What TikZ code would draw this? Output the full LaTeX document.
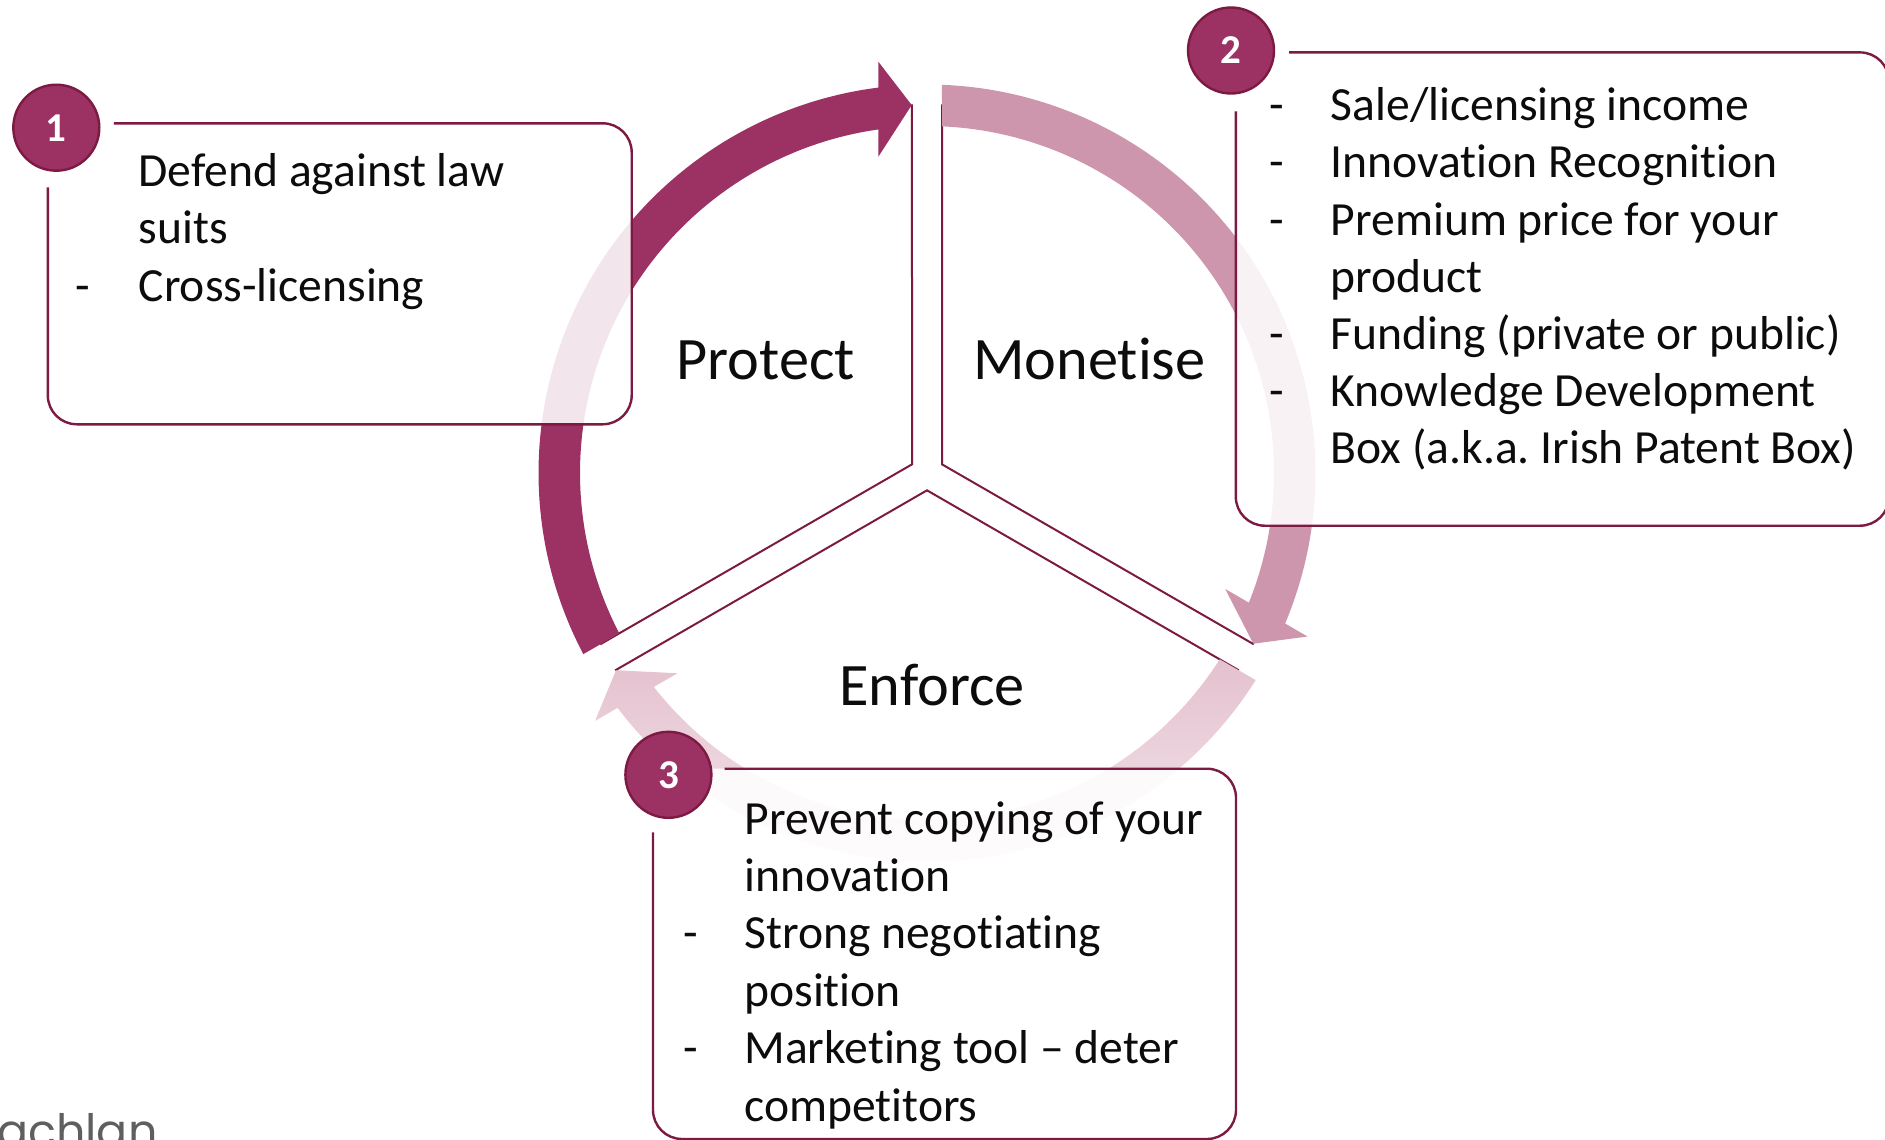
\documentclass[tikz,border=0pt]{standalone}
\usepackage{fontspec}
\setmainfont{Carlito}[Ligatures=NoCommon]
\newfontfamily\logofont{Poppins}
\definecolor{darkplum}{RGB}{155,50,99}
\definecolor{midplum}{RGB}{205,150,172}
\definecolor{enftop}{RGB}{228,193,206}
\definecolor{enfbot}{RGB}{244,230,236}
\definecolor{edgeplum}{RGB}{125,26,66}
\definecolor{ink}{RGB}{12,12,12}
\definecolor{logogray}{RGB}{95,95,95}
\newcommand\ringarrow[2]{%
  \path[#1] ({207.79+#2}:388.5) arc[start angle={207.79+#2}, end angle={97.2+#2}, radius=388.5]
    -- ({96.75+#2}:414.2) -- ({92.38+#2}:368.3) -- ({98.75+#2}:320) -- ({98.06+#2}:347)
    arc[start angle={98.06+#2}, end angle={207.52+#2}, radius=347] -- cycle;}
\newcommand\pieseg[1]{%
  \path[wedge] ({150+#1}:17.32) -- ({92.34+#1}:368)
    arc[start angle={92.34+#1}, end angle={207.66+#1}, radius=368] -- cycle;}
\newcommand\tline[4]{\node[bodytext] (#1) at (#2,#3) {#4};}
\begin{document}
\frenchspacing
\begin{tikzpicture}[x=1pt,y=1pt,
  wedge/.style={fill=white, draw=edgeplum, line width=2pt, line join=miter},
  infobox/.style={fill=white, fill opacity=0.88, rounded corners=29pt},
  boxedge/.style={draw=edgeplum, line width=2.4pt, rounded corners=29pt},
  numdisc/.style={circle, fill=darkplum, draw=edgeplum, line width=2.4pt, minimum size=86pt,
    inner sep=0pt, text=white, font=\fontsize{41}{41}\selectfont\bfseries},
  bodytext/.style={anchor=base west, inner sep=0pt, text=ink, font=\fontsize{47.6}{57.5}\selectfont},
  seglabel/.style={anchor=base, inner sep=0pt, text=ink, font=\fontsize{60.3}{70}\selectfont},
]
\useasboundingbox (0,0) rectangle (1885,-1140);

% pie segments and ring arrows
\begin{scope}[shift={(927,-473)}]
  \pieseg{0}
  \pieseg{-120}
  \pieseg{-240}
  \ringarrow{fill=darkplum}{0}
  \ringarrow{fill=midplum}{-120}
  \ringarrow{top color=enftop, bottom color=enfbot}{120}
\end{scope}

% segment labels
\node[seglabel] (protect) at (765.5,-379.5) {Protect};
\node[seglabel] (monetise) at (1089.3,-379.5) {Monetise};
\node[seglabel] (enforce) at (932,-705) {Enforce};

% boxes
\path[infobox] (47.8,-123.3) rectangle (631.7,-424.3);
\draw[boxedge] (113.8,-123.3) -- (631.7,-123.3) -- (631.7,-424.3) -- (47.8,-424.3) -- (47.8,-187.3);
\path[infobox] (1235.8,-52.4) rectangle (1889,-525.7);
\draw[boxedge] (1289,-52.4) -- (1889,-52.4) -- (1889,-525.7) -- (1235.8,-525.7) -- (1235.8,-111.4);
\path[infobox] (653,-768.7) rectangle (1236,-1139);
\draw[boxedge] (724.5,-768.7) -- (1236,-768.7) -- (1236,-1139) -- (653,-1139) -- (653,-832.4);

% box 1 text
\tline{a1}{138.5}{-186}{Defend against law}
\tline{a2}{138.5}{-243.5}{suits}
\tline{a3d}{75.5}{-301}{-}
\tline{a3}{138.5}{-301}{Cross-licensing}

% box 2 text
\tline{b1d}{1269.5}{-120.7}{-}
\tline{b1}{1330.6}{-120.7}{Sale/licensing income}
\tline{b2d}{1269.5}{-177.9}{-}
\tline{b2}{1330.6}{-177.9}{Innovation Recognition}
\tline{b3d}{1269.5}{-235.1}{-}
\tline{b3}{1330.6}{-235.1}{Premium price for your}
\tline{b4}{1330.6}{-292.3}{product}
\tline{b5d}{1269.5}{-349.5}{-}
\tline{b5}{1330.6}{-349.5}{Funding (private or public)}
\tline{b6d}{1269.5}{-406.7}{-}
\tline{b6}{1330.6}{-406.7}{Knowledge Development}
\tline{b7}{1330.6}{-463.9}{Box (a.k.a. Irish Patent Box)}

% box 3 text
\tline{c1}{744.2}{-834}{Prevent copying of your}
\tline{c2}{744.2}{-891.4}{innovation}
\tline{c3d}{683.2}{-948.8}{-}
\tline{c3}{744.2}{-948.8}{Strong negotiating}
\tline{c4}{744.2}{-1006.2}{position}
\tline{c5d}{683.2}{-1063.6}{-}
\tline{c5}{744.2}{-1063.6}{Marketing tool – deter}
\tline{c6}{744.2}{-1121}{competitors}

% number discs
\node[numdisc] (n1) at (56.3,-127.7) {1};
\node[numdisc] (n2) at (1231,-50.5) {2};
\node[numdisc] (n3) at (668.4,-774.8) {3};

% cut-off logo text
\node[anchor=base west, inner sep=0pt, text=logogray, font=\logofont\fontsize{46}{46}\selectfont] (logo) at (-3,-1147) {achlan};
\end{tikzpicture}
\end{document}
